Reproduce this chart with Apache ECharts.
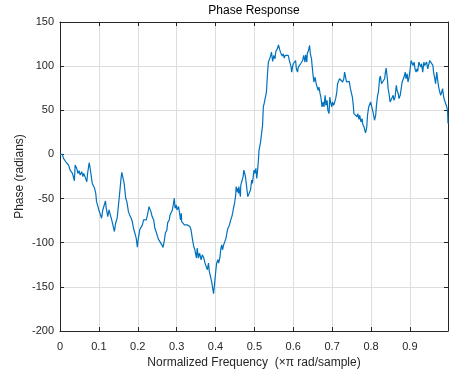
<!DOCTYPE html>
<html>
<head>
<meta charset="utf-8">
<script src="https://cdn.jsdelivr.net/npm/echarts@6/dist/echarts.min.js"></script>
<style>
  html, body { margin: 0; padding: 0; background: #fff; }
  #chart { width: 449px; height: 371px; }
</style>
</head>
<body>
<div id="chart"></div>
<script>
// normalized frequency (x pi rad/sample)
const freq = [
  0, 0.006, 0.009, 0.012, 0.015, 0.019, 0.022, 0.026, 0.029, 0.032,
  0.035, 0.037, 0.039, 0.041, 0.043, 0.046, 0.049, 0.052, 0.056, 0.059,
  0.061, 0.065, 0.067, 0.069, 0.071, 0.075, 0.077, 0.080, 0.083, 0.086,
  0.089, 0.092, 0.094, 0.097, 0.100, 0.104, 0.107, 0.110, 0.113, 0.117,
  0.119, 0.123, 0.126, 0.130, 0.133, 0.136, 0.140, 0.143, 0.147, 0.150,
  0.153, 0.157, 0.159, 0.163, 0.165, 0.169, 0.172, 0.176, 0.179, 0.183,
  0.186, 0.189, 0.193, 0.196, 0.199, 0.201, 0.205, 0.208, 0.212, 0.215,
  0.218, 0.222, 0.225, 0.229, 0.231, 0.234, 0.237, 0.241, 0.244, 0.247,
  0.253, 0.258, 0.262, 0.265, 0.268, 0.271, 0.275, 0.277, 0.281, 0.283,
  0.286, 0.289, 0.292, 0.294, 0.296, 0.299, 0.301, 0.305, 0.307, 0.310,
  0.312, 0.313, 0.317, 0.320, 0.324, 0.327, 0.330, 0.334, 0.337, 0.341,
  0.344, 0.347, 0.351, 0.353, 0.356, 0.359, 0.363, 0.366, 0.370, 0.373,
  0.377, 0.379, 0.382, 0.384, 0.387, 0.390, 0.392, 0.394, 0.395, 0.397,
  0.399, 0.401, 0.403, 0.406, 0.408, 0.411, 0.414, 0.416, 0.418, 0.421,
  0.424, 0.427, 0.430, 0.432, 0.436, 0.439, 0.442, 0.444, 0.447, 0.449,
  0.452, 0.453, 0.455, 0.457, 0.459, 0.460, 0.462, 0.464, 0.465, 0.468,
  0.471, 0.473, 0.475, 0.477, 0.480, 0.483, 0.485, 0.488, 0.490,
  0.493, 0.495, 0.499, 0.501, 0.504, 0.506, 0.508, 0.510, 0.512, 0.516,
  0.518, 0.521, 0.523, 0.525, 0.529, 0.531, 0.534, 0.536, 0.540, 0.542,
  0.544, 0.547, 0.550, 0.553, 0.555, 0.559, 0.562, 0.565, 0.567, 0.570,
  0.572, 0.574, 0.577, 0.579, 0.583, 0.587, 0.589, 0.591, 0.594, 0.596,
  0.598, 0.600, 0.603, 0.606, 0.608, 0.611, 0.613, 0.617, 0.619, 0.622,
  0.624, 0.627, 0.630, 0.632, 0.635, 0.636, 0.639, 0.642, 0.644, 0.647,
  0.648, 0.651, 0.653, 0.656, 0.659, 0.661, 0.664, 0.666, 0.669, 0.671,
  0.674, 0.677, 0.679, 0.682, 0.684, 0.687, 0.689, 0.692, 0.694, 0.696,
  0.699, 0.701, 0.704, 0.706, 0.709, 0.712, 0.714, 0.717, 0.719, 0.722,
  0.724, 0.727, 0.730, 0.732,
  0.735, 0.737, 0.740, 0.742, 0.744, 0.747, 0.749, 0.752, 0.754, 0.756,
  0.759, 0.761, 0.764, 0.766, 0.769, 0.771, 0.774, 0.777, 0.779, 0.782,
  0.784, 0.786, 0.789, 0.791, 0.794, 0.796, 0.799, 0.801, 0.804, 0.806,
  0.809, 0.812, 0.814, 0.817, 0.819, 0.822, 0.824, 0.827, 0.830, 0.832,
  0.835, 0.837, 0.839, 0.842, 0.844, 0.847, 0.849, 0.852, 0.854, 0.857,
  0.859, 0.862, 0.865, 0.867, 0.870, 0.872, 0.875, 0.877, 0.880, 0.883,
  0.885, 0.888, 0.890, 0.893, 0.895, 0.898, 0.900, 0.903, 0.906, 0.908,
  0.911, 0.913, 0.916, 0.918, 0.920, 0.923, 0.925, 0.928, 0.930, 0.933,
  0.936, 0.938, 0.941, 0.943, 0.946, 0.948, 0.951, 0.953, 0.956, 0.959,
  0.961, 0.964, 0.966, 0.969, 0.971, 0.974, 0.977, 0.979, 0.982, 0.984,
  0.987, 0.989, 0.992, 0.995, 0.997, 0.998
];

// phase in radians
const phase = [
  0, 0, -4.5, -2.7, -8.3, -7.2, -12.1, -17.7, -15.8, -21.5,
  -19.6, -29.8, -12.1, -11.0, -15.8, -21.5, -18.5, -23.4, -19.6, -25.2,
  -21.5, -26.0, -27.1, -30.9, -21.5, -9.4, -14.0, -23.4, -32.8, -30.9,
  -38.4, -44.1, -53.5, -55.3, -62.9, -64.8, -72.3, -62.9, -64.8, -52.7,
  -61.0, -70.4, -62.9, -64.8, -74.2, -79.8, -87.3, -77.9, -72.3, -59.1,
  -45.9, -27.1, -20.3, -21.5, -32.8, -49.7, -53.5, -64.8, -68.5, -72.3,
  -76.0, -83.6, -85.4, -94.8, -105.0, -96.7, -85.4, -83.6, -79.8, -74.2,
  -73.4, -74.2, -68.5, -59.1, -57.2, -64.8, -70.4, -74.2, -83.6, -87.3,
  -96.0, -96.7, -102.4, -105.4, -98.6, -89.2, -85.4, -77.2, -74.2, -68.5,
  -65.9, -62.9, -55.3, -49.7, -61.0, -57.2, -62.9, -59.1, -64.8, -74.2,
  -66.6, -76.0, -77.9, -79.8, -77.9, -79.8, -79.8, -81.7, -85.4, -96.7,
  -104.3, -108.0, -117.4, -106.1, -117.4, -111.8, -119.3, -113.7, -117.4, -123.1,
  -124.9, -130.6, -123.1, -132.5, -138.1, -143.8, -149.4, -151.3, -157.7, -149.4,
  -140.0, -130.6, -123.1, -119.3, -123.1, -117.4, -106.1, -102.4, -108.0, -102.4,
  -100.5, -94.8, -87.3, -83.6, -79.8, -74.2, -70.4, -66.6, -59.1, -55.3,
  -45.9, -36.5, -42.2, -38.4, -44.1, -36.5, -42.2, -47.8, -34.7, -32.8,
  -25.2, -17.7, -15.8, -25.2, -36.5, -47.8, -49.7, -49.7, -40.3,
  -29.0, -32.8, -17.7, -21.5, -15.8, -27.1, -19.6, -8.3, 4.9, 14.3,
  21.8, 33.1, 53.8, 57.5, 59.4, 70.7, 93.3, 104.6, 109.1, 112.1,
  115.8, 105.3, 112.1, 108.3, 116.6, 119.6, 124.1, 118.9, 115.8, 117.7,
  111.3, 114.0, 109.1, 112.1, 112.8, 112.1, 110.2, 104.6, 100.0, 93.3,
  98.9, 102.7, 100.8, 106.4, 97.0, 93.3, 98.9, 97.0, 102.7, 100.8,
  106.4, 112.1, 104.6, 112.8, 104.6, 114.0, 117.7, 123.4, 114.0, 108.3,
  102.7, 89.5, 82.0, 87.6, 80.1, 78.2, 72.6, 76.3, 68.8, 65.0,
  53.8, 59.4, 53.8, 66.9, 55.6, 61.3, 50.0, 46.2, 65.0, 59.4,
  53.8, 59.4, 55.6, 57.5, 63.2, 70.7, 80.1, 79.0, 85.7, 83.9,
  87.6, 82.0, 85.7, 93.3,
  91.4, 82.0, 83.9, 80.1, 82.7, 74.5, 72.6, 65.0, 57.5, 46.2,
  44.4, 46.2, 42.5, 46.2, 39.8, 44.4, 36.8, 40.6, 33.8, 31.2,
  27.4, 24.4, 31.0, 44.4, 53.8, 55.6, 59.4, 55.6, 53.8, 46.2,
  38.7, 44.4, 55.6, 66.9, 70.7, 85.7, 88.7, 80.1, 82.0, 79.0,
  85.7, 93.3, 97.8, 85.7, 74.5, 66.9, 59.4, 60.2, 57.5, 66.9,
  61.3, 65.0, 78.2, 72.6, 68.8, 63.2, 66.9, 72.6, 82.0, 83.9,
  87.6, 93.3, 85.7, 91.4, 82.0, 87.6, 94.0, 106.4, 107.6, 100.8,
  104.6, 97.0, 93.3, 97.0, 94.0, 104.6, 106.4, 98.9, 102.7, 93.3,
  104.6, 100.8, 98.9, 104.6, 97.0, 100.8, 106.4, 108.3, 107.6, 100.8,
  93.3, 85.7, 80.1, 93.3, 85.7, 76.3, 74.5, 66.9, 70.7, 74.5,
  65.0, 61.3, 59.4, 53.8, 48.1, 35.0
];

const chart = echarts.init(document.getElementById('chart'));

const axisColor = '#262626';
const gridColor = '#dedede';
const fontFamily = 'Liberation Sans, Arial, sans-serif';

const xFmt = v => String(Math.round(v * 10) / 10);

chart.setOption({
  animation: false,
  grid: { left: 60, right: 1, top: 22, bottom: 40, outerBoundsMode: 'none' },
  xAxis: [
    {
      type: 'value',
      min: 0,
      max: 0.998,
      interval: 0.1,
      name: 'Normalized Frequency  (\u00d7\u03c0 rad/sample)',
      nameLocation: 'middle',
      nameGap: 26,
      nameMoveOverlap: false,
      nameTextStyle: { color: axisColor, fontSize: 12, fontFamily },
      axisLine: { onZero: false, lineStyle: { color: axisColor } },
      axisTick: { inside: true, length: 4, lineStyle: { color: axisColor } },
      axisLabel: { color: axisColor, fontSize: 11, fontFamily, margin: 10, formatter: xFmt, showMaxLabel: false },
      splitLine: { show: true, lineStyle: { color: gridColor } }
    },
    {
      type: 'value',
      position: 'top',
      min: 0,
      max: 0.998,
      interval: 0.1,
      name: 'Phase Response',
      nameLocation: 'middle',
      nameGap: 5,
      nameMoveOverlap: false,
      nameTextStyle: { color: '#000', fontSize: 12, fontFamily },
      axisLine: { onZero: false, lineStyle: { color: axisColor } },
      axisTick: { inside: true, length: 4, lineStyle: { color: axisColor } },
      axisLabel: { show: false },
      splitLine: { show: false }
    }
  ],
  yAxis: [
    {
      type: 'value',
      min: -200,
      max: 150,
      interval: 50,
      name: 'Phase (radians)',
      nameLocation: 'middle',
      nameGap: 34,
      nameMoveOverlap: false,
      nameTextStyle: { color: axisColor, fontSize: 12, fontFamily },
      axisLine: { show: true, onZero: false, lineStyle: { color: axisColor } },
      axisTick: { show: true, inside: true, length: 4, lineStyle: { color: axisColor } },
      axisLabel: { color: axisColor, fontSize: 11, fontFamily, margin: 6 },
      splitLine: { show: true, lineStyle: { color: gridColor } }
    },
    {
      type: 'value',
      position: 'right',
      min: -200,
      max: 150,
      interval: 50,
      axisLine: { show: true, onZero: false, lineStyle: { color: axisColor } },
      axisTick: { show: true, inside: true, length: 4, lineStyle: { color: axisColor } },
      axisLabel: { show: false },
      splitLine: { show: false }
    }
  ],
  series: [
    {
      name: 'Phase',
      type: 'line',
      data: freq.map((f, i) => [f, phase[i]]),
      showSymbol: false,
      lineStyle: { color: '#0072BD', width: 1.2 },
      itemStyle: { color: '#0072BD' }
    }
  ]
});
</script>
</body>
</html>
